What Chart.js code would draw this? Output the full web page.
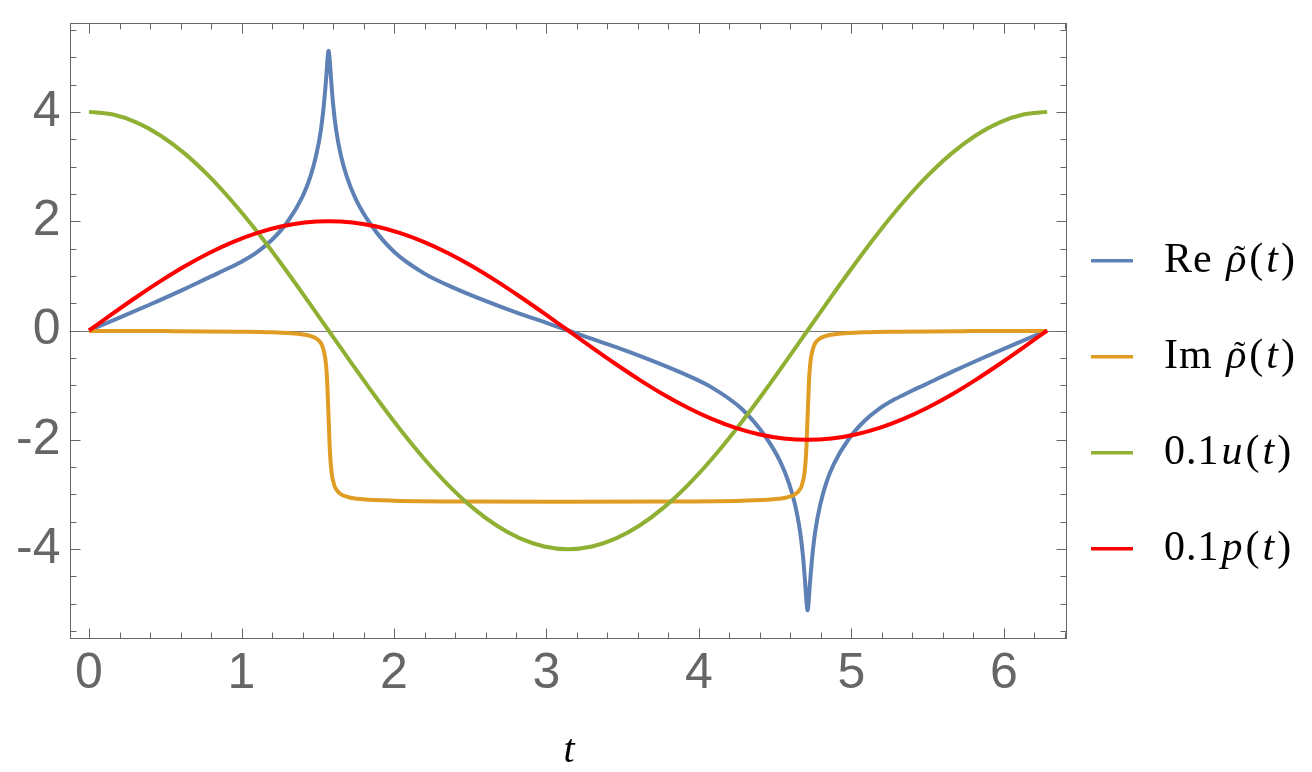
<!DOCTYPE html>
<html><head><meta charset="utf-8">
<script src="https://cdn.jsdelivr.net/npm/chart.js@4"></script>
<style>html,body{margin:0;padding:0;background:#fff}canvas{display:block}</style>
</head><body>
<canvas id="c" width="1312" height="772"></canvas>
<script>
// ---- data ----
const tGrid = [0,0.157,0.314,0.471,0.628,0.785,0.942,1.100,1.257,1.414,1.571,1.728,1.885,2.042,2.199,2.356,2.513,2.670,2.827,2.985,3.142,3.299,3.456,3.613,3.770,3.927,4.084,4.241,4.398,4.555,4.712,4.869,5.027,5.184,5.341,5.498,5.655,5.812,5.969,6.126,6.283];
const uScaled = [4,3.951,3.804,3.564,3.236,2.828,2.351,1.816,1.236,0.626,0,-0.626,-1.236,-1.816,-2.351,-2.828,-3.236,-3.564,-3.804,-3.951,-4,-3.951,-3.804,-3.564,-3.236,-2.828,-2.351,-1.816,-1.236,-0.626,0,0.626,1.236,1.816,2.351,2.828,3.236,3.564,3.804,3.951,4];
const pScaled = [0,0.313,0.618,0.908,1.176,1.414,1.618,1.782,1.902,1.975,2,1.975,1.902,1.782,1.618,1.414,1.176,0.908,0.618,0.313,0,-0.313,-0.618,-0.908,-1.176,-1.414,-1.618,-1.782,-1.902,-1.975,-2,-1.975,-1.902,-1.782,-1.618,-1.414,-1.176,-0.908,-0.618,-0.313,0];

const tRe = [0,0.2,0.4,0.6,0.8,0.9,1.0,1.1,1.2,1.3,1.4,1.45,1.49,1.52,1.54,1.556,1.565,1.571,1.577,1.586,1.601,1.621,1.651,1.691,1.75,1.85,2.0,2.2,2.4,2.6,2.8,3.0,3.1416,
  3.283,3.483,3.683,3.883,4.083,4.283,4.433,4.533,4.592,4.632,4.662,4.682,4.697,4.706,4.712,4.718,4.727,4.743,4.763,4.793,4.833,4.883,4.983,5.083,5.183,5.283,5.383,5.483,5.683,5.883,6.083,6.283];
const reRho = [0,0.235,0.475,0.725,0.99,1.12,1.26,1.43,1.66,1.98,2.45,2.80,3.21,3.66,4.13,4.65,5.00,5.12,5.00,4.65,4.13,3.66,3.21,2.81,2.40,1.93,1.44,1.04,0.77,0.54,0.33,0.14,0,
  -0.14,-0.33,-0.54,-0.77,-1.04,-1.44,-1.93,-2.40,-2.81,-3.21,-3.66,-4.13,-4.65,-5.00,-5.12,-5.00,-4.65,-4.13,-3.66,-3.21,-2.80,-2.45,-1.98,-1.66,-1.43,-1.26,-1.12,-0.99,-0.725,-0.475,-0.235,0];

const tIm = [0,0.5,1.0,1.2,1.35,1.45,1.5,1.53,1.55,1.56,1.5708,1.58,1.59,1.61,1.64,1.7,1.8,2.0,2.5,3.1416,3.783,4.283,4.483,4.583,4.643,4.673,4.693,4.703,4.7124,4.723,4.733,4.753,4.783,4.833,4.933,5.083,5.283,5.783,6.283];
const imRho = [-0.008,-0.011,-0.021,-0.032,-0.054,-0.099,-0.167,-0.286,-0.523,-0.838,-1.571,-2.225,-2.583,-2.845,-2.970,-3.049,-3.089,-3.114,-3.129,-3.134,-3.129,-3.114,-3.089,-3.049,-2.970,-2.845,-2.583,-2.225,-1.571,-0.838,-0.523,-0.286,-0.167,-0.099,-0.054,-0.032,-0.021,-0.011,-0.008];

const xTicks = [0,1,2,3,4,5,6];
const xTickLabels = ['0','1','2','3','4','5','6'];
const yTicks = [-4,-2,0,2,4];
const yTickLabels = ['-4','-2','0','2','4'];
const xMinorStep = 0.2;
const yMinorStep = 0.5;

const seriesColors = ['#5E81B5','#E19C24','#8FB032','#FF0000'];
// legend labels as [text, style] runs: 0 upright, 1 italic, 2 italic with tilde accent
const legendLabels = [
  [['Re',0],[' ',0],['\u03C1',2],['(',0],['t',1],[')',0]],
  [['Im',0],[' ',0],['\u03C1',2],['(',0],['t',1],[')',0]],
  [['0.1',0],['u',1],['(',0],['t',1],[')',0]],
  [['0.1',0],['p',1],['(',0],['t',1],[')',0]]
];
const axisTitle = 't';

const pts = (xs, ys) => xs.map((x, i) => ({x, y: ys[i]}));

const framePlugin = {
  id: 'mmaFrame',
  beforeDatasetsDraw(chart) {
    const {ctx, chartArea: a, scales: {y}} = chart;
    const y0 = Math.round(y.getPixelForValue(0)) + 0.5;
    ctx.save();
    ctx.strokeStyle = '#777';
    ctx.lineWidth = 1;
    ctx.beginPath(); ctx.moveTo(a.left, y0); ctx.lineTo(a.right, y0); ctx.stroke();
    ctx.restore();
  },
  afterDatasetsDraw(chart) {
    const {ctx, chartArea: a, scales: {x, y}} = chart;
    ctx.save();
    ctx.strokeStyle = '#666';
    ctx.lineWidth = 1;
    const L = Math.round(a.left) + 0.5, R = Math.round(a.right) - 0.5, T = Math.round(a.top) + 0.5, B = Math.round(a.bottom) - 0.5;
    ctx.strokeRect(L, T, R - L, B - T);
    ctx.beginPath();
    const eps = 1e-6;
    const xStart = Math.ceil(x.min / xMinorStep - eps);
    for (let k = xStart; k * xMinorStep <= x.max + eps; k++) {
      const v = k * xMinorStep;
      const major = Math.abs(v - Math.round(v)) < 1e-6;
      const len = major ? 10 : 6;
      const px = Math.round(x.getPixelForValue(v)) + 0.5;
      ctx.moveTo(px, B); ctx.lineTo(px, B - len);
      ctx.moveTo(px, T); ctx.lineTo(px, T + len);
    }
    const yStart = Math.ceil(y.min / yMinorStep - eps);
    for (let k = yStart; k * yMinorStep <= y.max + eps; k++) {
      const v = k * yMinorStep;
      const major = Math.abs(v / 2 - Math.round(v / 2)) < 1e-6;
      const len = major ? 10 : 6;
      const py = Math.round(y.getPixelForValue(v)) + 0.5;
      ctx.moveTo(L, py); ctx.lineTo(L + len, py);
      ctx.moveTo(R, py); ctx.lineTo(R - len, py);
    }
    ctx.stroke();
    ctx.restore();
  },
  afterDraw(chart) {
    const {ctx, chartArea: a} = chart;
    ctx.save();
    ctx.fillStyle = '#000';
    ctx.font = 'italic 40px "Liberation Serif"';
    ctx.textAlign = 'center';
    ctx.textBaseline = 'alphabetic';
    ctx.fillText(axisTitle, (a.left + a.right) / 2 + 1, 762);
    // legend
    ctx.textAlign = 'left';
    legendLabels.forEach((runs, i) => {
      const ly = 260.7 + 96 * i;
      ctx.strokeStyle = seriesColors[i];
      ctx.lineWidth = 3.5;
      ctx.beginPath(); ctx.moveTo(1091, ly); ctx.lineTo(1133, ly); ctx.stroke();
      let tx = 1164;
      const base = ly + 11;
      runs.forEach(([s, st]) => {
        ctx.letterSpacing = '1px';
        ctx.font = (st ? 'italic ' : '') + '42px "Liberation Serif"';
        ctx.fillText(s, tx, base);
        const w = ctx.measureText(s).width;
        if (st === 2) {
          ctx.letterSpacing = '0px';
          ctx.font = '34px "Liberation Serif"';
          ctx.textAlign = 'center';
          ctx.fillText('\u02DC', tx + w / 2 + 3, base - 3);
          ctx.textAlign = 'left';
        }
        tx += w + (s === ' ' ? 0 : 2);
      });
    });
    ctx.restore();
  }
};

const tickFont = {family: '"Liberation Sans", Arial, sans-serif', size: 50};

new Chart(document.getElementById('c').getContext('2d'), {
  type: 'line',
  data: {
    datasets: [
      {label: 'Re', data: pts(tRe, reRho), borderColor: seriesColors[0], order: 4},
      {label: 'Im', data: pts(tIm, imRho), borderColor: seriesColors[1], order: 3},
      {label: 'u', data: pts(tGrid, uScaled), borderColor: seriesColors[2], order: 2},
      {label: 'p', data: pts(tGrid, pScaled), borderColor: seriesColors[3], order: 1}
    ]
  },
  options: {
    responsive: false,
    animation: false,
    devicePixelRatio: 1,
    elements: {
      point: {radius: 0},
      line: {borderWidth: 4, cubicInterpolationMode: 'monotone', fill: false, borderCapStyle: 'butt', borderJoinStyle: 'round'}
    },
    layout: {padding: {left: 0, top: 22.5, right: 245.5, bottom: 0}},
    plugins: {legend: {display: false}, tooltip: {enabled: false}},
    scales: {
      x: {
        type: 'linear', min: -0.128, max: 6.41,
        grid: {display: false}, border: {display: false},
        afterFit(s) { s.height = 133.5; s.paddingLeft = 0; s.paddingRight = 0; },
        afterBuildTicks(s) { s.ticks = xTicks.map(v => ({value: v})); },
        ticks: {
          callback: (v) => xTickLabels[xTicks.indexOf(v)],
          font: tickFont, color: '#666', padding: -2, maxRotation: 0, autoSkip: false
        }
      },
      y: {
        type: 'linear', min: -5.635, max: 5.635,
        grid: {display: false}, border: {display: false},
        afterFit(s) { s.width = 69.5; s.paddingTop = 0; s.paddingBottom = 0; },
        afterBuildTicks(s) { s.ticks = yTicks.map(v => ({value: v})); },
        ticks: {
          callback: (v) => yTickLabels[yTicks.indexOf(v)],
          font: tickFont, color: '#666', padding: 1, autoSkip: false
        }
      }
    }
  },
  plugins: [framePlugin]
});
</script>
</body></html>
